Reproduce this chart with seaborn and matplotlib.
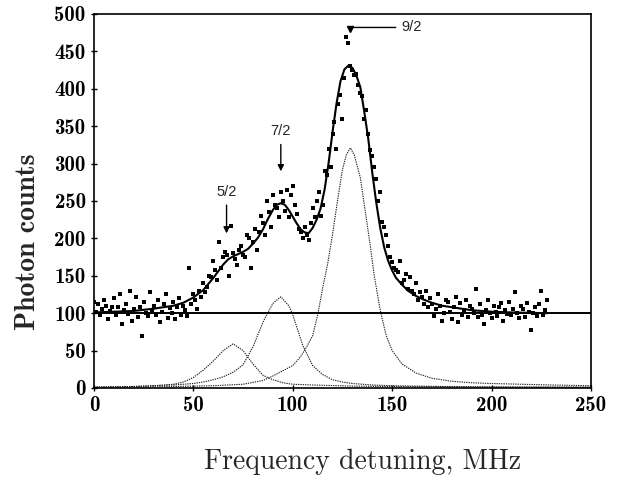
import numpy as np
import pandas as pd
import matplotlib
matplotlib.use("Agg")
import matplotlib.pyplot as plt
import seaborn as sns

# measured photon counts, one point per MHz (0..228)
counts = [
    115, 101, 112, 97, 105, 118, 110, 92, 103, 108,
    120, 98, 108, 125, 85, 104, 112, 99, 130, 90,
    106, 122, 95, 108, 70, 115, 100, 96, 128, 104,
    110, 98, 118, 88, 102, 112, 125, 94, 107, 100,
    115, 92, 108, 120, 98, 110, 104, 96, 160, 112,
    125, 118, 105, 130, 122, 140, 128, 135, 150, 148,
    170, 158, 145, 195, 160, 175, 182, 178, 150, 217,
    180, 172, 165, 185, 190, 178, 175, 205, 200, 160,
    195, 212, 185, 208, 230, 220, 205, 250, 235, 215,
    258, 245, 240, 228, 262, 250, 236, 265, 228, 258,
    270, 245, 232, 212, 208, 200, 215, 205, 198, 220,
    240, 228, 250, 262, 230, 245, 290, 285, 320, 295,
    340, 355, 320, 380, 392, 360, 415, 469, 461, 430,
    425, 418, 420, 405, 395, 390, 360, 372, 340, 318,
    310, 295, 280, 250, 262, 222, 215, 205, 190, 175,
    168, 160, 158, 155, 170, 140, 145, 152, 132, 148,
    130, 125, 140, 118, 128, 122, 112, 130, 108, 120,
    112, 96, 105, 125, 110, 90, 100, 118, 115, 102,
    92, 108, 122, 88, 113, 98, 104, 118, 95, 110,
    106, 100, 132, 95, 112, 98, 85, 104, 118, 100,
    93, 110, 102, 96, 108, 114, 90, 104, 99, 115,
    97, 106, 128, 100, 94, 110, 105, 95, 113, 102,
    78, 100, 108, 96, 112, 130, 98, 104, 118,
]
freq = list(range(len(counts)))

# total fit curve
fit_f = [0, 10, 20, 30, 40, 45, 50, 55, 60, 62.5, 65, 67.5, 70, 72.5, 75, 77.5,
         80, 82.5, 85, 87.5, 90, 92, 94, 96, 98, 100, 102, 104, 106, 108, 110,
         112, 114, 116, 118, 120, 122, 124, 126, 128, 130, 132, 134, 136, 138,
         140, 142, 144, 146, 148, 150, 152, 155, 158, 162, 166, 170, 175, 180,
         185, 190, 200, 210, 228]
fit_c = [101, 102, 103, 106, 110, 114, 121, 131, 147, 156, 165, 172, 176, 179, 182, 186,
         193, 201, 212, 226, 238, 245, 247, 245, 238, 229, 220, 212, 208, 207, 214,
         225, 240, 265, 300, 342, 380, 410, 426, 431, 428, 418, 402, 369, 333,
         288, 248, 214, 188, 170, 157, 147, 138, 130, 123, 118, 114, 110, 108,
         106, 104, 102, 101, 100]

# hyperfine components
c52_f = [0, 20, 30, 40, 45, 50, 55, 60, 65, 70, 75, 80, 85, 90, 95, 100, 110, 130, 150, 200, 250]
c52_c = [1, 2, 3, 5, 8, 14, 24, 36, 50, 59, 50, 32, 17, 11, 7, 5, 4, 2.5, 2, 1, 1]

c72_f = [0, 20, 40, 50, 55, 60, 65, 70, 75, 80, 85, 90, 94, 98, 100, 105, 110, 115,
         120, 125, 130, 140, 150, 175, 200, 250]
c72_c = [1, 2, 4, 6, 8, 11, 15, 21, 31, 55, 88, 113, 122, 110, 98, 57, 30, 18,
         11, 8, 6, 4, 3, 2, 1.5, 1]

c92_f = [0, 30, 60, 75, 85, 90, 95, 100, 104, 107, 110, 112.5, 115, 117.5, 120,
         122.5, 125, 127, 129, 131, 134, 136, 139, 141, 144, 147, 150, 155, 162,
         170, 180, 190, 200, 215, 230, 250]
c92_c = [1, 1.5, 3, 5, 10, 16, 23, 30, 42, 55, 70, 97, 133, 165, 205,
         250, 292, 312, 321, 311, 281, 245, 190, 150, 104, 70, 50, 32, 20,
         13, 9, 7, 6, 5, 4, 3]

baseline = 100

sns.set_style("ticks")
fig, ax = plt.subplots(figsize=(6.32, 4.79), dpi=100)
fig.subplots_adjust(left=0.1487, right=0.935, bottom=0.19, top=0.9708)

dots = (0, (1.2, 0.9))
for f, c in [(c52_f, c52_c), (c72_f, c72_c), (c92_f, c92_c)]:
    sns.lineplot(x=f, y=c, ax=ax, color="#222222", lw=0.8, linestyle=dots, sort=False)

ax.axhline(baseline, color="black", lw=1.4)
sns.lineplot(x=fit_f, y=fit_c, ax=ax, color="black", lw=1.5, sort=False)
sns.scatterplot(x=freq, y=counts, ax=ax, color="black", s=9, marker="s", linewidth=0)

# peak labels
lab = dict(fontsize=10.5, family="Liberation Sans", ha="center", va="center")
arr = dict(arrowstyle="-|>", color="black", lw=1.0, mutation_scale=9)
ax.annotate("5/2", xy=(66.7, 203), xytext=(66.7, 262), arrowprops=arr, **lab)
ax.annotate("7/2", xy=(94, 286), xytext=(94, 343), arrowprops=arr, **lab)
# 9/2: horizontal leader ending in a small downward head
ax.annotate("9/2", xy=(129, 482), xytext=(160, 482),
            arrowprops=dict(arrowstyle="-", color="black", lw=1.0), **lab)
ax.plot([129], [480], marker="v", color="black", markersize=5, linestyle="none")

ax.set_xlim(0, 250)
ax.set_ylim(0, 500)
ax.set_xticks(range(0, 251, 50))
ax.set_yticks(range(0, 501, 50))
for s in ax.spines.values():
    s.set_visible(True)
    s.set_linewidth(1.2)
    s.set_color("black")
ax.tick_params(direction="inout", length=5, width=1, colors="black", labelsize=15)
for t in ax.get_xticklabels() + ax.get_yticklabels():
    t.set_fontfamily("cmb10")

ax.set_xlabel("Frequency detuning, MHz", family="cmr10", fontsize=20, va="center")
ax.set_ylabel("Photon counts", family="cmb10", fontsize=20, va="center")
ax.xaxis.set_label_coords(0.540, -0.198)
ax.yaxis.set_label_coords(-0.133, 0.39)

fig.savefig("out.png", dpi=100)
